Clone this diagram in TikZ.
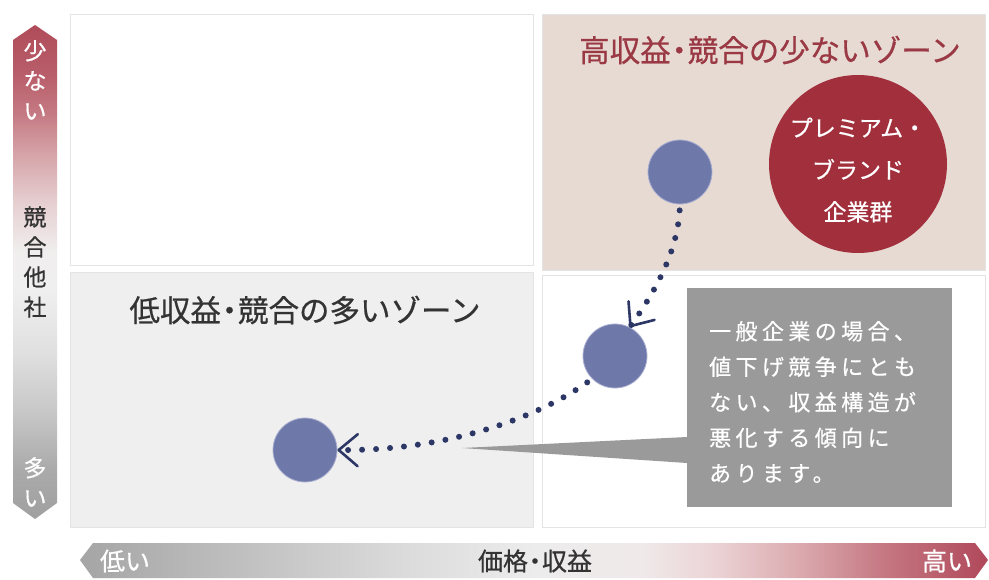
\documentclass[tikz,border=0pt]{standalone}
\usepackage{fontspec}
\setmainfont[FakeBold=0.6]{Noto Sans CJK JP}
\newfontfamily\jpsp[LetterSpace=20,FakeBold=0.6]{Noto Sans CJK JP}
\usetikzlibrary{arrows.meta}
\newcommand{\nd}{\kern-0.22em・\kern-0.22em}
\definecolor{titlered}{HTML}{9A3844}
\definecolor{premred}{HTML}{A22F3C}
\definecolor{zonepink}{HTML}{E7DAD3}
\definecolor{zonegray}{HTML}{EFEFEF}
\definecolor{zoneedge}{HTML}{E4E4E4}
\definecolor{compblue}{HTML}{6F79A9}
\definecolor{compedge}{HTML}{A9AED0}
\definecolor{navy}{HTML}{2C3766}
\definecolor{calloutgray}{HTML}{9A9A9A}
\definecolor{darktext}{HTML}{333333}
% vertical bar colours (bottom -> top)
\definecolor{vA}{HTML}{A0A0A0}
\definecolor{vB}{HTML}{AAAAAA}
\definecolor{vC}{HTML}{C8C8C8}
\definecolor{vD}{HTML}{E0E0E0}
\definecolor{vE}{HTML}{EFEFEF}
\definecolor{vF}{HTML}{F0EEEE}
\definecolor{vG}{HTML}{E6CFD1}
\definecolor{vH}{HTML}{D5A3A8}
\definecolor{vI}{HTML}{C57A83}
\definecolor{vJ}{HTML}{B85E6A}
\definecolor{vK}{HTML}{B04C5A}
% horizontal bar colours (left -> right)
\definecolor{hA}{HTML}{A5A5A5}
\definecolor{hB}{HTML}{C0C0C0}
\definecolor{hC}{HTML}{DADADA}
\definecolor{hD}{HTML}{ECECEC}
\definecolor{hE}{HTML}{EFE9E9}
\definecolor{hF}{HTML}{EBD3D5}
\definecolor{hG}{HTML}{D9A6AB}
\definecolor{hH}{HTML}{C67A84}
\definecolor{hI}{HTML}{B0485A}
\pgfdeclareverticalshading{compshade}{100bp}{color(0bp)=(vA); color(25bp)=(vA); color(30bp)=(vB); color(36bp)=(vC); color(42bp)=(vD); color(48bp)=(vE); color(52bp)=(vF); color(57bp)=(vG); color(62bp)=(vH); color(66bp)=(vI); color(70bp)=(vJ); color(75bp)=(vK); color(100bp)=(vK)}
\pgfdeclarehorizontalshading{priceshade}{100bp}{color(0bp)=(hA); color(25bp)=(hA); color(34bp)=(hB); color(42.5bp)=(hC); color(50bp)=(hD); color(56bp)=(hE); color(60bp)=(hF); color(65bp)=(hG); color(69bp)=(hH); color(75bp)=(hI); color(100bp)=(hI)}
\begin{document}
\begin{tikzpicture}[x=1pt,y=-1pt,
  zonebox/.style={rectangle, inner sep=0pt, line width=1.2pt, anchor=north west},
  zonetitle/.style={font=\fontsize{30.5}{34}\selectfont, inner sep=0pt},
  company/.style={circle, fill=compblue, draw=compedge, line width=0.8pt, minimum size=64pt, inner sep=0pt},
  dotarrow/.style={draw=navy, line width=6pt, line cap=round, dash pattern=on 0pt off 14pt,
     -{Straight Barb[length=19pt,width=32pt,line width=2.6pt,round]}},
  barlabel/.style={font=\fontsize{23}{30}\selectfont, align=center, inner sep=0pt},
  axislabel/.style={font=\fontsize{25}{28}\selectfont, inner sep=0pt}
]
\useasboundingbox (0,0) rectangle (989,580);
\fill[white] (0,0) rectangle (989,580);

% quadrants
\node[zonebox, fill=white, draw=zoneedge, minimum width=463pt, minimum height=251pt] (tl) at (70,14) {};
\node[zonebox, fill=zonepink, draw=zoneedge, minimum width=443pt, minimum height=256pt] (tr) at (542,14) {};
\node[zonebox, fill=zonegray, draw=zoneedge, minimum width=463pt, minimum height=255pt] (bl) at (70,272) {};
\node[zonebox, fill=white, draw=zoneedge, minimum width=443pt, minimum height=252pt] (br) at (542,275) {};

% zone titles
\node[zonetitle, text=titlered] (hightitle) at (770,50) {高収益\nd 競合の少ないゾーン};
\node[zonetitle, text=darktext] (lowtitle) at (305,310) {低収益\nd 競合の多いゾーン};

% premium brand circle
\node[circle, fill=premred, minimum size=178pt, inner sep=0pt] (prem) at (858,164) {};
\node[font=\fontsize{23}{42}\selectfont, text=white, align=center, inner sep=0pt] (premtext) at (858,170) {プレミアム・\\ブランド\\企業群};

% companies
\node[company] (c1) at (680,172) {};
\node[company] (c2) at (615,356) {};
\node[company] (c3) at (305,450) {};

% callout
\node[rectangle, fill=calloutgray, minimum width=265pt, minimum height=219pt, inner sep=0pt] (note) at (819.5,397.5) {};
\coordinate (ptip) at (462,448);
\fill[calloutgray] (ptip) -- (687,437) -- (687,463) -- cycle;
\node[anchor=west, align=left, text=white, inner sep=0pt, font=\jpsp\fontsize{22}{35.5}\selectfont] (notetext) at (709,402) {一般企業の場合、\\値下げ競争にとも\\ない、収益構造が\\悪化する傾向に\\あります。};

% trajectories
\draw[dotarrow, shorten <=6pt] (c1.south) .. controls (677,255) and (652,296) .. (c2.63);
\draw[dotarrow, shorten <=6pt] (c2.225) .. controls (540,416) and (450,451) .. (c3.east);

% vertical axis bar
\shade[shading=compshade] (13,40) -- (35,25) -- (57,40) -- (57,503) -- (35,519) -- (13,503) -- cycle;
\node[barlabel, text=white] (few) at (35,80) {少\\な\\い};
\node[barlabel, text=darktext] (rivals) at (35,262) {競\\合\\他\\社};
\node[barlabel, text=white] (many) at (35,482) {多\\い};

% horizontal axis bar
\shade[shading=priceshade] (80,560) -- (93,543) -- (975,543) -- (988,560) -- (975,578) -- (93,578) -- cycle;
\node[axislabel, text=white] (low) at (125,561) {低い};
\node[axislabel, text=darktext] (price) at (535,561) {価格\nd 収益};
\node[axislabel, text=white] (high) at (947,561) {高い};
\end{tikzpicture}
\end{document}
